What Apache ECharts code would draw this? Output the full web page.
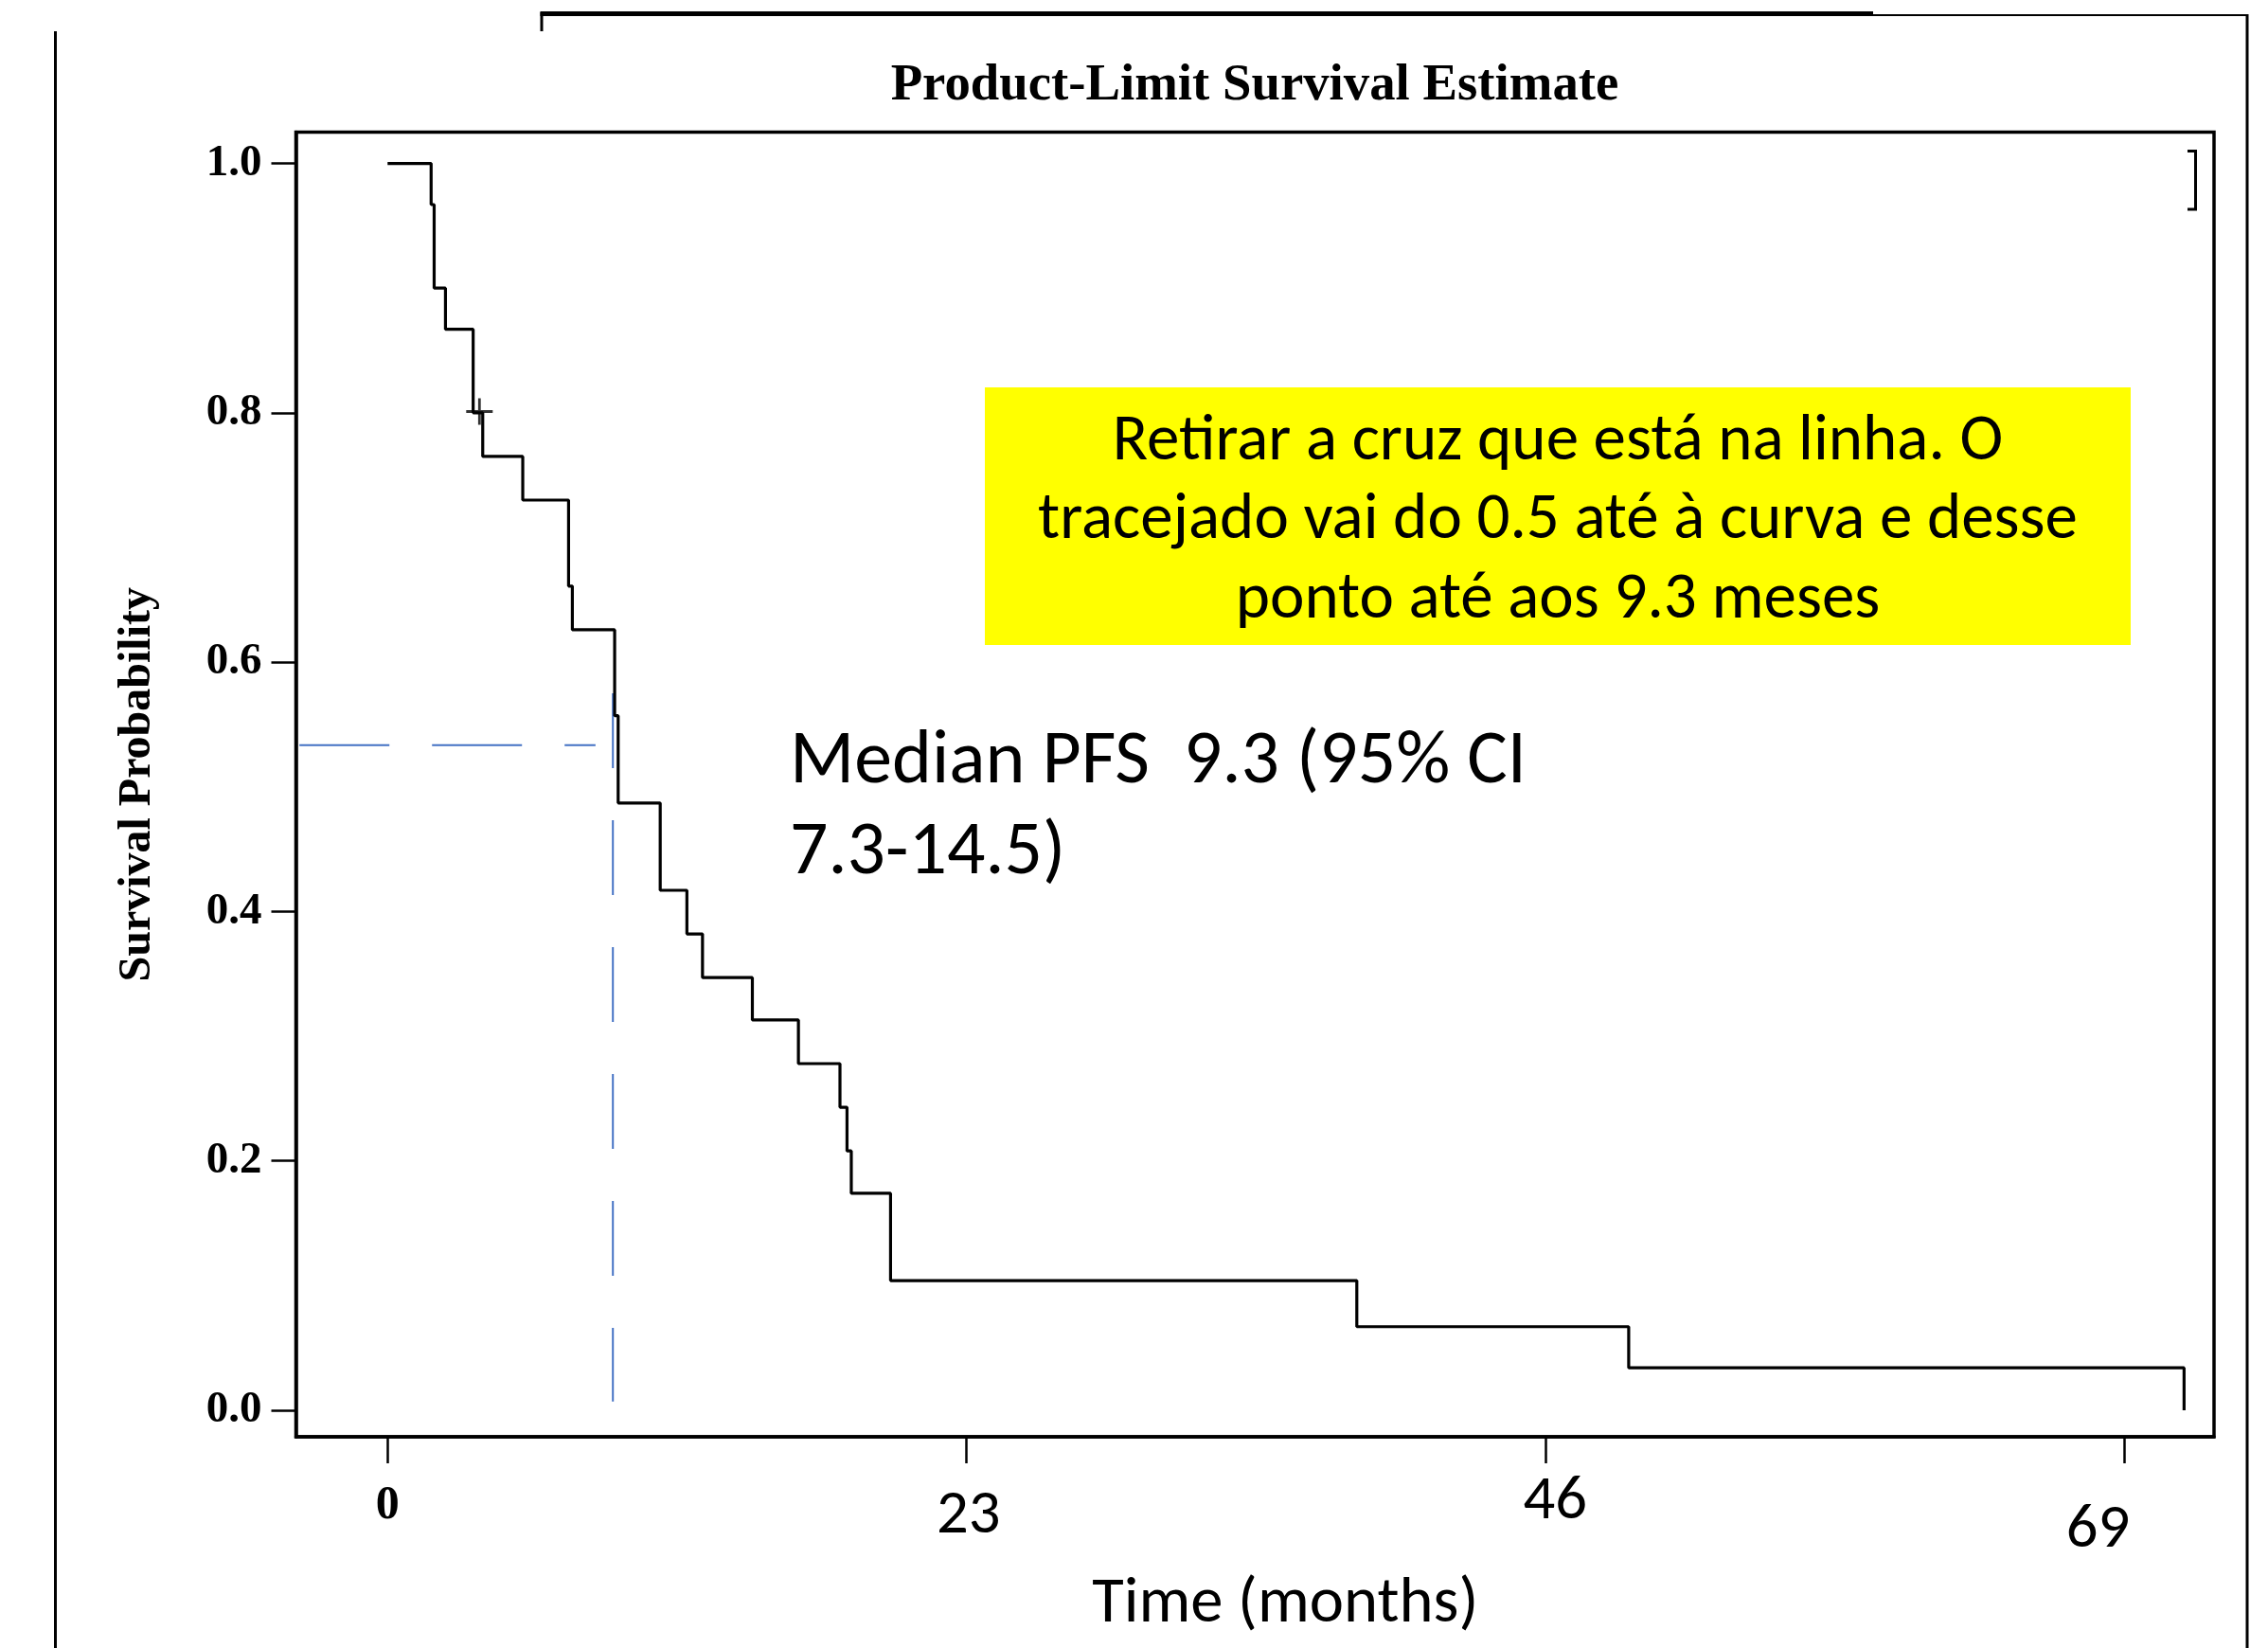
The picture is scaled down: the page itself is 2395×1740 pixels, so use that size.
<!DOCTYPE html>
<html>
<head>
<meta charset="utf-8">
<script src="https://cdn.jsdelivr.net/npm/echarts@6.0.0/dist/echarts.min.js"></script>
<style>
  html, body { margin: 0; padding: 0; background: #fff; }
  #chart { width: 2395px; height: 1740px; }
</style>
</head>
<body>
<div id="chart"></div>
<script>
// ---- Data ----
const times    = [0, 1.73, 1.85, 2.30, 3.40, 3.78, 5.37, 7.19, 7.34, 9.02, 9.16, 10.83, 11.89, 12.51, 14.49, 16.32, 17.97, 18.25, 18.42, 19.98, 38.5, 49.3, 71.36];
const survival = [1.0, 0.967, 0.900, 0.867, 0.800, 0.765, 0.730, 0.661, 0.626, 0.557, 0.487, 0.417, 0.382, 0.347, 0.313, 0.278, 0.243, 0.208, 0.174, 0.104, 0.067, 0.034, 0.0];
const censorTimes = [3.65];
const censorSurv  = [0.801];
const medianHX = [-3.5, 8.26];
const medianHY = [0.5335, 0.5335];
const medianVX = [8.95, 8.95];
const medianVY = [0.575, 0.007];
const xTicks = [0, 23, 46, 69];
const yTicks = [0, 0.2, 0.4, 0.6, 0.8, 1.0];
const X_MIN = -3.64, X_MAX = 72.55;
const Y_MIN = -0.0213, Y_MAX = 1.0251;

const titleText = 'Product-Limit Survival Estimate';
const yName = 'Survival Probability';
const xName = 'Time (months)';
const medianLines = ['Median PFS  9.3 (95% CI', '7.3-14.5)'];
const noteLines = ['Retirar a cruz que está na linha. O', 'tracejado vai do 0.5 até à curva e desse', 'ponto até aos 9.3 meses'];

// ---- Styling helpers ----
const CAL = 'Carlito, Lato, sans-serif';
const SERIF = '"Liberation Serif", "Times New Roman", serif';
const mctx = document.createElement('canvas').getContext('2d');
function fitSize(text, family, weight, targetW) {
  mctx.font = weight + ' 100px ' + family;
  return 100 * targetW / mctx.measureText(text).width;
}
const titleSize = fitSize(titleText, SERIF, 'bold', 769);
const medianSize = fitSize(medianLines[0], CAL, 'normal', 778);
const noteSize = fitSize(noteLines[1], CAL, 'normal', 1098);
const xNameSize = fitSize(xName, CAL, 'normal', 408);
const xLabSize = xNameSize * 0.97;

const labelKey = {0: 'z', 23: 'a', 46: 'b', 69: 'c'};

const chart = echarts.init(document.getElementById('chart'), null, {renderer: 'canvas'});

const option = {
  animation: false,
  backgroundColor: '#ffffff',
  grid: {
    left: 312.5, right: 57, top: 139.5, bottom: 223,
    show: true, borderColor: '#000', borderWidth: 3.5,
    backgroundColor: 'transparent',
    outerBoundsMode: 'none'
  },
  xAxis: {
    type: 'value', min: X_MIN, max: X_MAX,
    name: xName, nameLocation: 'middle', nameGap: 178 - xNameSize / 2,
    nameTextStyle: { fontFamily: CAL, fontSize: xNameSize, lineHeight: xNameSize, color: '#000', padding: [0, 0, 0, 64] },
    axisLine: { show: true, onZero: false, lineStyle: { color: '#000', width: 3.5 } },
    axisTick: { show: true, customValues: xTicks, length: 28, lineStyle: { color: '#000', width: 2.5 } },
    axisLabel: {
      customValues: xTicks, margin: 10,
      formatter: function (v) { return '{' + labelKey[Math.round(v)] + '|' + Math.round(v) + '}'; },
      rich: {
        z: { fontFamily: SERIF, fontWeight: 'bold', fontSize: 50, lineHeight: 50, color: '#000', padding: [76, 0, 0, 0] },
        a: { fontFamily: CAL, fontSize: xLabSize, lineHeight: 66, color: '#000', padding: [82, 0, 0, 4] },
        b: { fontFamily: CAL, fontSize: xLabSize, lineHeight: 66, color: '#000', padding: [52, 0, 0, 20] },
        c: { fontFamily: CAL, fontSize: xLabSize, lineHeight: 66, color: '#000', padding: [112, 56, 0, 0] }
      }
    },
    splitLine: { show: false }
  },
  yAxis: {
    type: 'value', min: Y_MIN, max: Y_MAX,
    name: yName, nameLocation: 'middle', nameGap: 143,
    nameTextStyle: { fontFamily: SERIF, fontWeight: 'bold', fontSize: 48, color: '#000' },
    axisLine: { show: true, onZero: false, lineStyle: { color: '#000', width: 3.5 } },
    axisTick: { show: true, customValues: yTicks, length: 26, lineStyle: { color: '#000', width: 2.5 } },
    axisLabel: {
      customValues: yTicks, margin: 36,
      formatter: function (v) { return v.toFixed(1); },
      fontFamily: SERIF, fontWeight: 'bold', fontSize: 47, color: '#000'
    },
    splitLine: { show: false }
  },
  series: [
    {
      type: 'line', name: 'KM', step: 'end', showSymbol: false, z: 3,
      data: times.map((t, i) => [t, survival[i]]),
      lineStyle: { color: '#000', width: 3.2 }
    },
    {
      type: 'scatter', name: 'Censored', z: 4,
      data: censorTimes.map((t, i) => [t, censorSurv[i]]),
      symbol: 'path://M45,0H55V45H100V55H55V100H45V55H0V45H45Z',
      symbolSize: 28,
      itemStyle: { color: '#000' }
    },
    {
      type: 'line', name: 'MedianH', showSymbol: false, z: 2,
      data: medianHX.map((x, i) => [x, medianHY[i]]),
      lineStyle: { color: '#4472C4', width: 2, type: [95, 45] }
    },
    {
      type: 'line', name: 'MedianV', showSymbol: false, z: 2,
      data: medianVX.map((x, i) => [x, medianVY[i]]),
      lineStyle: { color: '#4472C4', width: 2, type: [79, 55] }
    }
  ],
  graphic: [
    // outer page frame lines
    { type: 'line', shape: { x1: 58.5, y1: 33, x2: 58.5, y2: 1740 }, style: { stroke: '#000', lineWidth: 3 } },
    { type: 'line', shape: { x1: 572, y1: 13, x2: 572, y2: 33 }, style: { stroke: '#000', lineWidth: 3 } },
    { type: 'line', shape: { x1: 570.5, y1: 14.5, x2: 1978, y2: 14.5 }, style: { stroke: '#000', lineWidth: 5 } },
    { type: 'line', shape: { x1: 1978, y1: 16, x2: 2373, y2: 16 }, style: { stroke: '#000', lineWidth: 2 } },
    { type: 'line', shape: { x1: 2373, y1: 15, x2: 2373, y2: 1740 }, style: { stroke: '#000', lineWidth: 3 } },
    // bracket artifact
    { type: 'polyline', shape: { points: [[2310, 159.5], [2318.5, 159.5], [2318.5, 221], [2310, 221]] }, style: { stroke: '#000', lineWidth: 3, fill: null } },
    // title
    { type: 'text', x: 1325, y: 91, z: 10,
      style: { text: titleText, fontFamily: SERIF, fontWeight: 'bold', fontSize: titleSize, fill: '#000',
               align: 'center', verticalAlign: 'middle', textAlign: 'center', textVerticalAlign: 'middle' } },
    // yellow note box
    { type: 'rect', z: 5, shape: { x: 1040, y: 409, width: 1210, height: 272 }, style: { fill: '#FFFF00' } },
    { type: 'text', x: 1645, y: 551, z: 6,
      style: { text: noteLines.join('\n'), fontFamily: CAL, fontSize: noteSize, lineHeight: 83.5, fill: '#000',
               align: 'center', verticalAlign: 'middle', textAlign: 'center', textVerticalAlign: 'middle' } },
    // median annotation
    { type: 'text', x: 834, y: 854, z: 6,
      style: { text: medianLines.join('\n'), fontFamily: CAL, fontSize: medianSize, lineHeight: 95.6, fill: '#000',
               align: 'left', verticalAlign: 'middle', textAlign: 'left', textVerticalAlign: 'middle' } }
  ]
};
chart.setOption(option);
</script>
</body>
</html>
